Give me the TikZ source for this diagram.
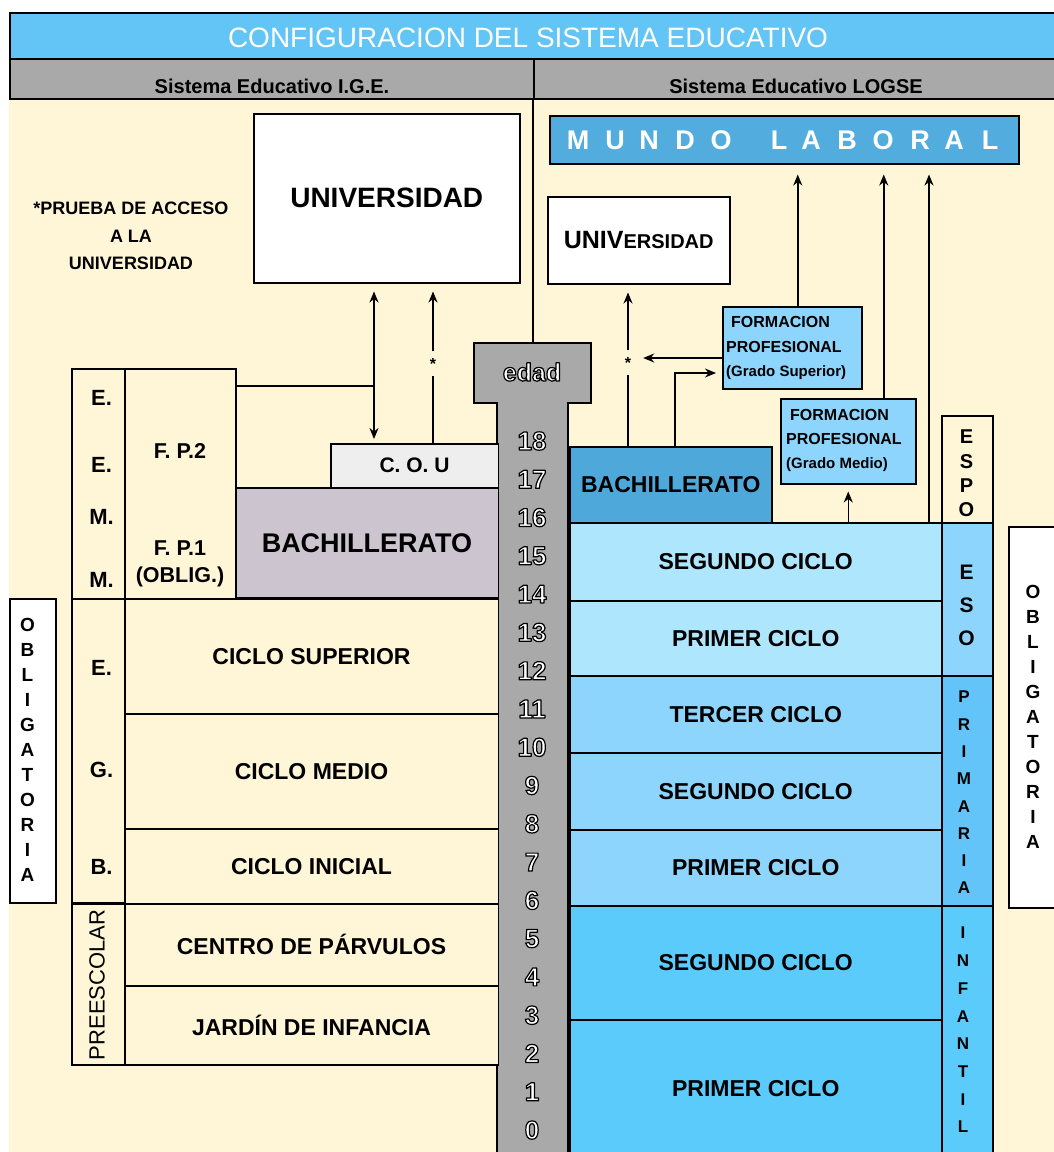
\documentclass[tikz,border=0pt]{standalone}
\usepackage{fontspec}
\setmainfont{Liberation Sans}
\usetikzlibrary{arrows.meta}
\definecolor{cream}{HTML}{FFF5D7}
\definecolor{titleblue}{HTML}{63C5F5}
\definecolor{bargray}{HTML}{A9A9A9}
\definecolor{coufill}{HTML}{EEEEEE}
\definecolor{bachLcol}{HTML}{CCC5CF}
\definecolor{bachRcol}{HTML}{4FA8DA}
\definecolor{mundocol}{HTML}{52ACDE}
\definecolor{fpfill}{HTML}{8DD5FC}
\definecolor{esorow}{HTML}{AEE6FD}
\definecolor{esolab}{HTML}{8DD5FC}
\definecolor{primrow}{HTML}{8DD5FC}
\definecolor{primlab}{HTML}{62C4F8}
\definecolor{infrow}{HTML}{5BCBFC}
\newcommand\fsz[1]{\fontsize{#1}{#1}\selectfont}
% white text with a black outline (fill + stroke rendering mode)
\newcommand\outl[1]{{\color{white}\special{pdf:literal direct 0 G 1.2 w 1 j 2 Tr}#1\special{pdf:literal direct 0 Tr}}}
\begin{document}
\begin{tikzpicture}[x=1pt,y=-1pt,
  bx/.style={draw=black,line width=1.5pt,inner sep=0pt,anchor=north west,font=\bfseries\fsz{23}},
  ln/.style={line width=1.5pt},
  arr/.style={line width=1.5pt,-{Stealth[length=11pt,width=9pt,inset=3.5pt]}},
  lbl/.style={font=\bfseries\fsz{22},inner sep=0pt},
  stk/.style={align=center,inner sep=0pt},
  fpt/.style={anchor=west,inner sep=0pt,font=\bfseries\fsz{16}},
  starnode/.style={inner sep=0pt,minimum width=14pt,minimum height=24pt,font=\bfseries\fsz{16}}]
\useasboundingbox (0,0) rectangle (1054,1152);
\clip (0,0) rectangle (1054,1152);
\fill[white] (0,0) rectangle (1054,1152);
\fill[cream] (9,98) rectangle (1054,1152);
% header
\node[bx,fill=titleblue,minimum width=1045pt,minimum height=46pt] (title) at (9,12) {};
\node[font=\fsz{28},text=white,inner sep=0pt] (titletxt) at (528,38) {CONFIGURACION DEL SISTEMA EDUCATIVO};
\node[bx,fill=bargray,minimum width=524pt,minimum height=40pt] (ige) at (9,58) {};
\node[bx,fill=bargray,minimum width=521pt,minimum height=40pt] (logse) at (533,58) {};
\node[lbl,font=\bfseries\fsz{20}] (igetxt) at (272,86) {Sistema Educativo I.G.E.};
\node[lbl,font=\bfseries\fsz{20}] (logsetxt) at (796,86) {Sistema Educativo LOGSE};
% edad column
\draw[ln,fill=bargray] (474,343) -- (591,343) -- (591,403) -- (568,403) -- (568,1165) -- (497,1165) -- (497,403) -- (474,403) -- cycle;
\coordinate (edadtop) at (533,343);
\draw[ln] (logse.south west) -- (edadtop);
\node[font=\bfseries\fsz{25},inner sep=0pt] (edadlbl) at (532,372) {\outl{edad}};
\foreach \n in {0,...,18}
  \node[font=\bfseries\fsz{26},inner sep=0pt] (age\n) at (532,{441+(18-\n)*38.28}) {\outl{\n}};
% ---------- left system ----------
\node[bx,fill=white,minimum width=266pt,minimum height=169pt,font=\bfseries\fsz{28}] (univL) at (253,113) {UNIVERSIDAD};
\node[stk,font=\bfseries\fontsize{18}{27.5}\selectfont] (prueba) at (131,236) {*PRUEBA DE ACCESO\\A LA\\UNIVERSIDAD};
\node[bx,fill=cream,minimum width=53pt,minimum height=230pt] (eemm) at (71,368) {};
\node[bx,fill=cream,minimum width=111pt,minimum height=230pt] (fpcol) at (124,368) {};
\node[lbl] (eem1) at (101.5,398) {E.};
\node[lbl] (eem2) at (101.5,465) {E.};
\node[lbl] (eem3) at (101.5,517) {M.};
\node[lbl] (eem4) at (101.5,580) {M.};
\node[lbl,font=\bfseries\fsz{21.5}] (fp2) at (180,451) {F. P.2};
\node[lbl,font=\bfseries\fsz{21.5}] (fp1) at (180,548) {F. P.1};
\node[lbl,font=\bfseries\fsz{21.5}] (oblig) at (180,577) {(OBLIG.)};
\node[bx,fill=coufill,minimum width=167.5pt,minimum height=44pt,font=\bfseries\fsz{21}] (cou) at (330,443) {C. O. U};
\node[bx,fill=bachLcol,minimum width=262.5pt,minimum height=110pt,font=\bfseries\fsz{27}] (bachL) at (235,487) {BACHILLERATO};
\node[bx,fill=cream,minimum width=53pt,minimum height=304pt] (egb) at (71,598) {};
\node[bx,fill=cream,minimum width=373.5pt,minimum height=115pt] (cs) at (124,598) {CICLO SUPERIOR};
\node[bx,fill=cream,minimum width=373.5pt,minimum height=115pt] (cm) at (124,713) {CICLO MEDIO};
\node[bx,fill=cream,minimum width=373.5pt,minimum height=75pt] (ci) at (124,828) {CICLO INICIAL};
\node[lbl] (egbE) at (101.5,668) {E.};
\node[lbl] (egbG) at (101.5,770) {G.};
\node[lbl] (egbB) at (101.5,867) {B.};
\node[bx,fill=cream,minimum width=53pt,minimum height=161pt] (pre) at (71,903) {};
\node[rotate=90,font=\fsz{22},inner sep=0pt] (pretxt) at (97,985) {PREESCOLAR};
\node[bx,fill=cream,minimum width=373.5pt,minimum height=82pt] (cp) at (124,903) {CENTRO DE PÁRVULOS};
\node[bx,fill=cream,minimum width=373.5pt,minimum height=79pt] (jd) at (124,985) {JARDÍN DE INFANCIA};
\node[bx,fill=white,minimum width=46pt,minimum height=304pt] (oblL) at (9,598) {};
\node[stk,font=\bfseries\fontsize{19}{25}\selectfont] (oblLtxt) at (27.5,750) {O\\B\\L\\I\\G\\A\\T\\O\\R\\I\\A};
% left connectors
\coordinate (k1) at (374,386);
\draw[ln] ([yshift=-18pt]fpcol.north east) -- (k1);
\draw[arr,shorten >=8pt] (k1) -- (univL.south -| k1);
\draw[arr,shorten >=4pt] (k1) -- (cou.north -| k1);
\node[starnode] (starL) at (433,363.5) {*};
\draw[ln] (cou.north -| starL) -- (starL.south);
\draw[arr,shorten >=8pt] (starL.north) -- (univL.south -| starL);
% ---------- right system ----------
\node[bx,fill=mundocol,minimum width=469pt,minimum height=48pt] (mundo) at (549,115) {};
\foreach \l/\x in {M/578,U/615,N/649,D/685,O/721,L/779,A/811,B/847,O/883,R/920,A/954,L/990}
  \node[font=\bfseries\fsz{27},text=white,inner sep=0pt] (ml\x) at (\x,140) {\l};
\node[bx,fill=white,minimum width=182pt,minimum height=87pt] (univR) at (547,196) {{\fsz{25}UNIV}{\fsz{20}ERSIDAD}};
\node[bx,fill=fpfill,minimum width=139pt,minimum height=82pt] (fpgs) at (722,306) {};
\node[fpt] (fpgs1) at (731,322) {FORMACION};
\node[fpt] (fpgs2) at (726,347) {PROFESIONAL};
\node[fpt,font=\bfseries\fsz{15}] (fpgs3) at (726,373) {(Grado Superior)};
\node[bx,fill=fpfill,minimum width=135pt,minimum height=85pt] (fpgm) at (780,398) {};
\node[fpt] (fpgm1) at (790,415) {FORMACION};
\node[fpt] (fpgm2) at (786,439) {PROFESIONAL};
\node[fpt,font=\bfseries\fsz{15}] (fpgm3) at (786,465) {(Grado Medio)};
\node[bx,fill=cream,minimum width=51pt,minimum height=107pt] (espo) at (941,415) {};
\node[stk,font=\bfseries\fontsize{20}{24.3}\selectfont] (espotxt) at (966.5,473.5) {E\\S\\P\\O};
\node[bx,fill=bachRcol,minimum width=202pt,minimum height=76pt] (bachR) at (569,446) {BACHILLERATO};
\node[bx,fill=esorow,minimum width=372pt,minimum height=78pt] (esoSeg) at (569,522) {SEGUNDO CICLO};
\node[bx,fill=esorow,minimum width=372pt,minimum height=75pt] (esoPri) at (569,600) {PRIMER CICLO};
\node[bx,fill=esolab,minimum width=51pt,minimum height=153pt] (esolabel) at (941,522) {};
\node[stk,font=\bfseries\fontsize{21}{33}\selectfont] (esotxt) at (966.5,605.5) {E\\S\\O};
\node[bx,fill=primrow,minimum width=372pt,minimum height=77pt] (pTer) at (569,675) {TERCER CICLO};
\node[bx,fill=primrow,minimum width=372pt,minimum height=77pt] (pSeg) at (569,752) {SEGUNDO CICLO};
\node[bx,fill=primrow,minimum width=372pt,minimum height=76pt] (pPri) at (569,829) {PRIMER CICLO};
\node[bx,fill=primlab,minimum width=51pt,minimum height=230pt] (primlabel) at (941,675) {};
\node[stk,font=\bfseries\fontsize{17}{27.3}\selectfont] (primtxt) at (964,792.5) {P\\R\\I\\M\\A\\R\\I\\A};
\node[bx,fill=infrow,minimum width=372pt,minimum height=114pt] (iSeg) at (569,905) {SEGUNDO CICLO};
\node[bx,fill=infrow,minimum width=372pt,minimum height=138pt] (iPri) at (569,1019) {PRIMER CICLO};
\node[bx,fill=infrow,minimum width=51pt,minimum height=260pt] (inflabel) at (941,905) {};
\node[stk,font=\bfseries\fontsize{17}{27.7}\selectfont] (inftxt) at (963,1030) {I\\N\\F\\A\\N\\T\\I\\L};
\node[bx,fill=white,minimum width=60pt,minimum height=381pt] (oblR) at (1008,526) {};
\node[stk,font=\bfseries\fontsize{19}{25}\selectfont] (oblRtxt) at (1033,717) {O\\B\\L\\I\\G\\A\\T\\O\\R\\I\\A};
% right connectors
\node[starnode] (starR) at (628,362.5) {*};
\draw[ln] (bachR.north -| starR) -- (starR.south);
\draw[arr,shorten >=8pt] (starR.north) -- (univR.south -| starR);
\coordinate (k3) at (700,358);
\draw[arr,shorten >=8pt] (fpgs.west |- k3) -- (starR.east |- k3);
\coordinate (k2) at (675,373);
\draw[arr,shorten >=6pt] (bachR.north -| k2) |- (fpgs.west |- k2);
\coordinate (a1) at ([xshift=5.5pt]fpgs.north);
\draw[arr,shorten >=10pt] (a1) -- (mundo.south -| a1);
\coordinate (a2) at ([xshift=35.5pt]fpgm.north);
\draw[arr,shorten >=10pt] (a2) -- (mundo.south -| a2);
\coordinate (a3) at (929,522);
\draw[arr,shorten >=10pt] (esoSeg.north -| a3) -- (mundo.south -| a3);
\draw[arr,shorten >=7pt] (esoSeg.north -| fpgm.south) -- (fpgm.south);
\end{tikzpicture}
\end{document}
